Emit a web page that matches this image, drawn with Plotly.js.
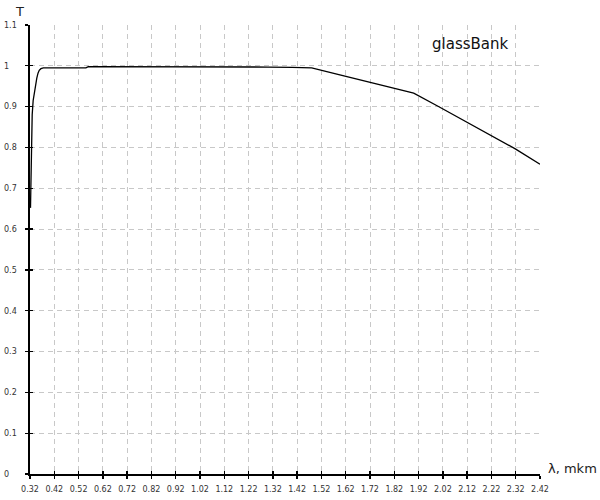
<!DOCTYPE html>
<html><head><meta charset="utf-8">
<script src="https://cdn.plot.ly/plotly-3.0.1.min.js"></script>
<style>html,body{margin:0;padding:0;background:#fff}</style>
</head><body>
<div id="chart" style="width:600px;height:500px"></div>
<script>
const wavelength = [0.322, 0.323, 0.324, 0.326, 0.329, 0.333, 0.338, 0.343, 0.348, 0.353, 0.358, 0.365, 0.375, 0.40, 0.50, 0.55, 0.56, 0.80, 1.00, 1.20, 1.30, 1.40, 1.48, 1.60, 1.70, 1.80, 1.90, 2.00, 2.10, 2.20, 2.32, 2.42];
const transmission = [0.652, 0.700, 0.760, 0.830, 0.880, 0.915, 0.935, 0.955, 0.970, 0.982, 0.989, 0.993, 0.995, 0.995, 0.995, 0.995, 0.998, 0.998, 0.998, 0.998, 0.997, 0.996, 0.995, 0.977, 0.962, 0.948, 0.933, 0.901, 0.868, 0.834, 0.796, 0.759];
const xTicks = [0.32,0.42,0.52,0.62,0.72,0.82,0.92,1.02,1.12,1.22,1.32,1.42,1.52,1.62,1.72,1.82,1.92,2.02,2.12,2.22,2.32,2.42];
const xTickText = ['0.32','0.42','0.52','0.62','0.72','0.82','0.92','1.02','1.12','1.22','1.32','1.42','1.52','1.62','1.72','1.82','1.92','2.02','2.12','2.22','2.32','2.42'];
const yTicks = [0,0.1,0.2,0.3,0.4,0.5,0.6,0.7,0.8,0.9,1,1.1];
const yTickText = ['0','0.1','0.2','0.3','0.4','0.5','0.6','0.7','0.8','0.9','1','1.1'];
const seriesName = 'glassBank';
const xTitle = 'λ, mkm';
const yTitle = 'T';

const tickFont = {family:'DejaVu Sans, Verdana, sans-serif', size:8, color:'#333'};
const gridC = '#c8c8c8';
const xr = [0.32, 2.42], yr = [0, 1.1];
const dom = [27/537, 1];

const trace = {x: wavelength, y: transmission, type:'scatter', mode:'lines',
  line:{color:'#000', width:1.3}, xaxis:'x', yaxis:'y', name: seriesName, showlegend:false, hoverinfo:'skip'};

const layout = {
  width:600, height:500,
  margin:{l:3, r:60, t:25, b:26},
  paper_bgcolor:'#fff', plot_bgcolor:'#fff',
  showlegend:false,
  xaxis:{domain:dom, range:xr, tickvals:xTicks, ticktext:xTickText, tickfont:tickFont,
    showgrid:true, gridcolor:gridC, griddash:'5px,4px', gridwidth:1,
    showline:true, linecolor:'#000', linewidth:2, ticks:'outside', ticklen:3, tickwidth:1.3, tickcolor:'#000',
    zeroline:false, anchor:'y', fixedrange:true, ticklabelstandoff:3},
  xaxis2:{domain:dom, range:xr, tickvals:xTicks, overlaying:'x', anchor:'y',
    showgrid:false, showline:false, ticks:'inside', ticklen:3, tickwidth:1.3, tickcolor:'#000',
    showticklabels:false, zeroline:false},
  yaxis:{range:yr, tickvals:yTicks, ticktext:yTickText, showticklabels:false,
    showgrid:true, gridcolor:gridC, griddash:'5px,4px', gridwidth:1,
    showline:true, linecolor:'#000', linewidth:2, ticks:'outside', ticklen:3, tickwidth:1.3, tickcolor:'#000',
    zeroline:false, anchor:'x', fixedrange:true},
  yaxis2:{range:yr, tickvals:yTicks, overlaying:'y', anchor:'x', side:'left',
    showgrid:false, showline:false, ticks:'inside', ticklen:3, tickwidth:1.3, tickcolor:'#000',
    showticklabels:false, zeroline:false},
  yaxis3:{range:yr, tickvals:yTicks, ticktext:yTickText, tickfont:tickFont, overlaying:'y', anchor:'free', position:0, side:'right',
    showgrid:false, showline:false, ticks:'', showticklabels:true, zeroline:false},
  annotations:[
    {text:yTitle, xref:'paper', yref:'paper', x:16/537, y:1, xanchor:'center', yanchor:'bottom', yshift:4, showarrow:false,
     font:{family:'DejaVu Sans, Verdana, sans-serif', size:13, color:'#222'}},
    {text:xTitle, xref:'paper', yref:'y', x:1, y:0, xanchor:'left', yanchor:'middle', xshift:6, yshift:6, showarrow:false,
     font:{family:'DejaVu Sans, Verdana, sans-serif', size:13, color:'#222'}},
    {text:seriesName, xref:'x', yref:'y', x:2.132, y:1.054, xanchor:'center', yanchor:'middle', showarrow:false,
     font:{family:'DejaVu Sans, Verdana, sans-serif', size:15, color:'#111'}}
  ]
};
const dummy2 = {x:[null], y:[null], xaxis:'x2', yaxis:'y2', type:'scatter', showlegend:false, hoverinfo:'skip'};
const dummy3 = {x:[null], y:[null], xaxis:'x', yaxis:'y3', type:'scatter', showlegend:false, hoverinfo:'skip'};
Plotly.newPlot('chart', [trace, dummy2, dummy3], layout, {displayModeBar:false, staticPlot:true});
</script>
</body></html>
